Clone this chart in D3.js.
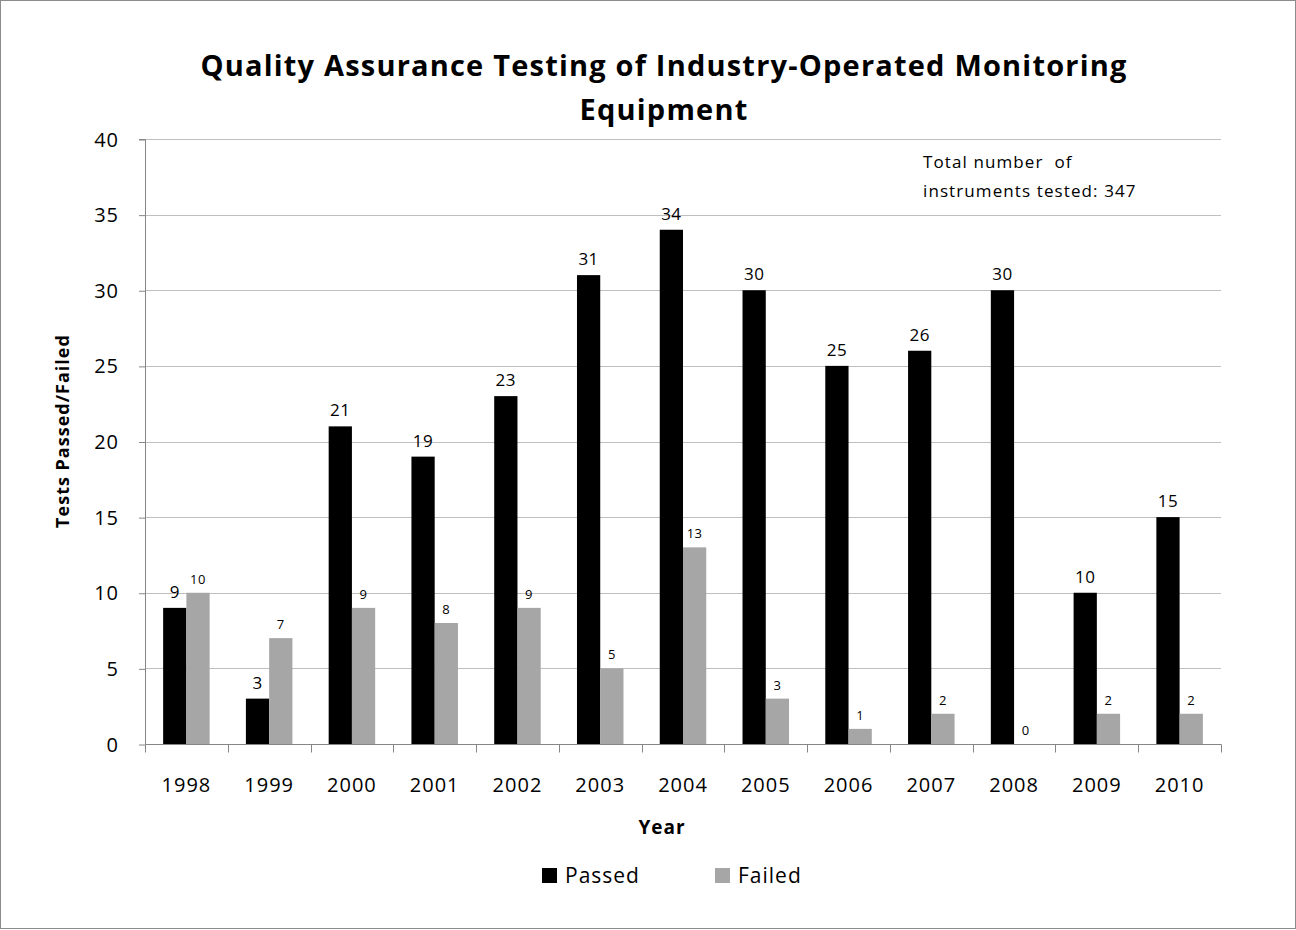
<!DOCTYPE html>
<html>
<head>
<meta charset="utf-8">
<script src="https://cdn.jsdelivr.net/npm/d3@7"></script>
<style>
  body { margin: 0; background: #fff; }
  svg text { font-family: "Open Sans", Lato, sans-serif; fill: #000; }
</style>
</head>
<body>
<div id="chart"></div>
<script>
const years = ['1998', '1999', '2000', '2001', '2002', '2003', '2004', '2005', '2006', '2007', '2008', '2009', '2010'];
const passed = [9, 3, 21, 19, 23, 31, 34, 30, 25, 26, 30, 10, 15];
const failed = [10, 7, 9, 8, 9, 5, 13, 3, 1, 2, 0, 2, 2];
const yTicks = [0, 5, 10, 15, 20, 25, 30, 35, 40];
const seriesNames = ['Passed', 'Failed'];
const seriesColors = ['#000000', '#a6a6a6'];

const W = 1296, H = 930;
const margin = {top: 139, right: 75, bottom: 186, left: 145};
const width = W - margin.left - margin.right;
const height = H - margin.top - margin.bottom;

let svg = d3.select('#chart').append('svg')
    .attr('width', W)
    .attr('height', H);

// outer frame
svg.append('rect')
    .attr('x', 0.5).attr('y', 0.5)
    .attr('width', W - 1).attr('height', H - 2)
    .attr('fill', '#fff')
    .attr('stroke', '#8c8c8c');

let g = svg.append('g')
    .attr('transform', 'translate(' + margin.left + ',' + margin.top + ')');

let x = d3.scaleBand()
    .domain(years)
    .range([0, width]);

let x1 = d3.scaleBand()
    .domain(seriesNames)
    .range([0, x.bandwidth()])
    .paddingOuter(0.78)
    .paddingInner(0);

let y = d3.scaleLinear()
    .domain([0, 40])
    .range([height, 0]);

// gridlines
g.selectAll('.grid')
    .data(yTicks.filter(d => d > 0))
    .enter().append('line')
    .attr('x1', 0).attr('x2', width)
    .attr('y1', d => Math.round(y(d)) + 0.5)
    .attr('y2', d => Math.round(y(d)) + 0.5)
    .style('stroke', '#bfbfbf')
    .style('stroke-width', 1);

// bars
let rows = years.map((yr, i) => ({year: yr, values: [passed[i], failed[i]]}));

let groups = g.selectAll('.grp')
    .data(rows)
    .enter().append('g')
    .attr('transform', d => 'translate(' + x(d.year) + ',0)');

groups.selectAll('rect')
    .data(d => d.values.map((v, j) => ({key: seriesNames[j], value: v, j: j})))
    .enter().append('rect')
    .attr('x', d => x1(d.key))
    .attr('y', d => y(d.value))
    .attr('width', x1.bandwidth())
    .attr('height', d => height - y(d.value))
    .style('fill', d => seriesColors[d.j]);

groups.selectAll('.lbl')
    .data(d => d.values.map((v, j) => ({key: seriesNames[j], value: v, j: j})))
    .enter().append('text')
    .attr('x', d => x1(d.key) + x1.bandwidth() / 2)
    .attr('y', d => y(d.value) - (d.j == 0 ? 10 : 9))
    .attr('text-anchor', 'middle')
    .style('font-size', d => d.j == 0 ? '17px' : '13px')
    .style('letter-spacing', '0.5px')
    .text(d => d.value);

// y axis
let yAxis = d3.axisLeft(y)
    .tickValues(yTicks)
    .tickSize(6)
    .tickPadding(20);
let ya = g.append('g').call(yAxis);
ya.select('.domain').attr('d', 'M-6,0.5H0.5V' + (height + 0.5));
ya.selectAll('.tick line').attr('transform', 'translate(0,0.5)');
ya.selectAll('path, line').style('stroke', '#868686');
ya.selectAll('text').style('font-size', '20px').style('letter-spacing', '1px').attr('dy', '0.35em');

// x axis
let xAxis = d3.axisBottom(x)
    .tickSize(0)
    .tickPadding(33);
let xa = g.append('g')
    .attr('transform', 'translate(0,' + (height + 0.5) + ')')
    .call(xAxis);
xa.select('.domain').attr('d', 'M0.5,0H' + (width + 0.5));
xa.selectAll('.sep')
    .data(d3.range(years.length + 1))
    .enter().append('line')
    .attr('x1', i => Math.round(i * x.step()) + 0.5)
    .attr('x2', i => Math.round(i * x.step()) + 0.5)
    .attr('y1', 0).attr('y2', 8);
xa.selectAll('path, line').style('stroke', '#868686');
xa.selectAll('text').style('font-size', '20px').style('letter-spacing', '1px');

// title
svg.selectAll('.title')
    .data(['Quality Assurance Testing of Industry-Operated Monitoring', 'Equipment'])
    .enter().append('text')
    .attr('x', 664).attr('y', (d, i) => 76 + i * 44)
    .attr('text-anchor', 'middle')
    .style('font-size', '29px').style('font-weight', 'bold')
    .style('letter-spacing', '1.2px')
    .text(d => d);

// axis titles
svg.append('text')
    .attr('x', 662).attr('y', 834)
    .attr('text-anchor', 'middle')
    .style('font-size', '19px').style('font-weight', 'bold')
    .style('letter-spacing', '1px')
    .text('Year');
svg.append('text')
    .attr('transform', 'translate(69,431) rotate(-90)')
    .attr('text-anchor', 'middle')
    .style('font-size', '18px').style('font-weight', 'bold')
    .style('letter-spacing', '1px')
    .text('Tests Passed/Failed');

// annotation
svg.selectAll('.note')
    .data(['Total number  of', 'instruments tested: 347'])
    .enter().append('text')
    .attr('x', 923).attr('y', (d, i) => 168 + i * 29)
    .style('font-size', '17px')
    .style('letter-spacing', '1.1px')
    .style('white-space', 'pre')
    .text(d => d);

// legend
let legX = [542, 715];
let leg = svg.selectAll('.leg')
    .data(seriesNames)
    .enter().append('g')
    .attr('transform', (d, i) => 'translate(' + legX[i] + ',868)');
leg.append('rect')
    .attr('width', 15).attr('height', 15)
    .style('fill', (d, i) => seriesColors[i]);
leg.append('text')
    .attr('x', 23).attr('y', 15)
    .style('font-size', '21px')
    .style('letter-spacing', '1px')
    .text(d => d);
</script>
</body>
</html>
